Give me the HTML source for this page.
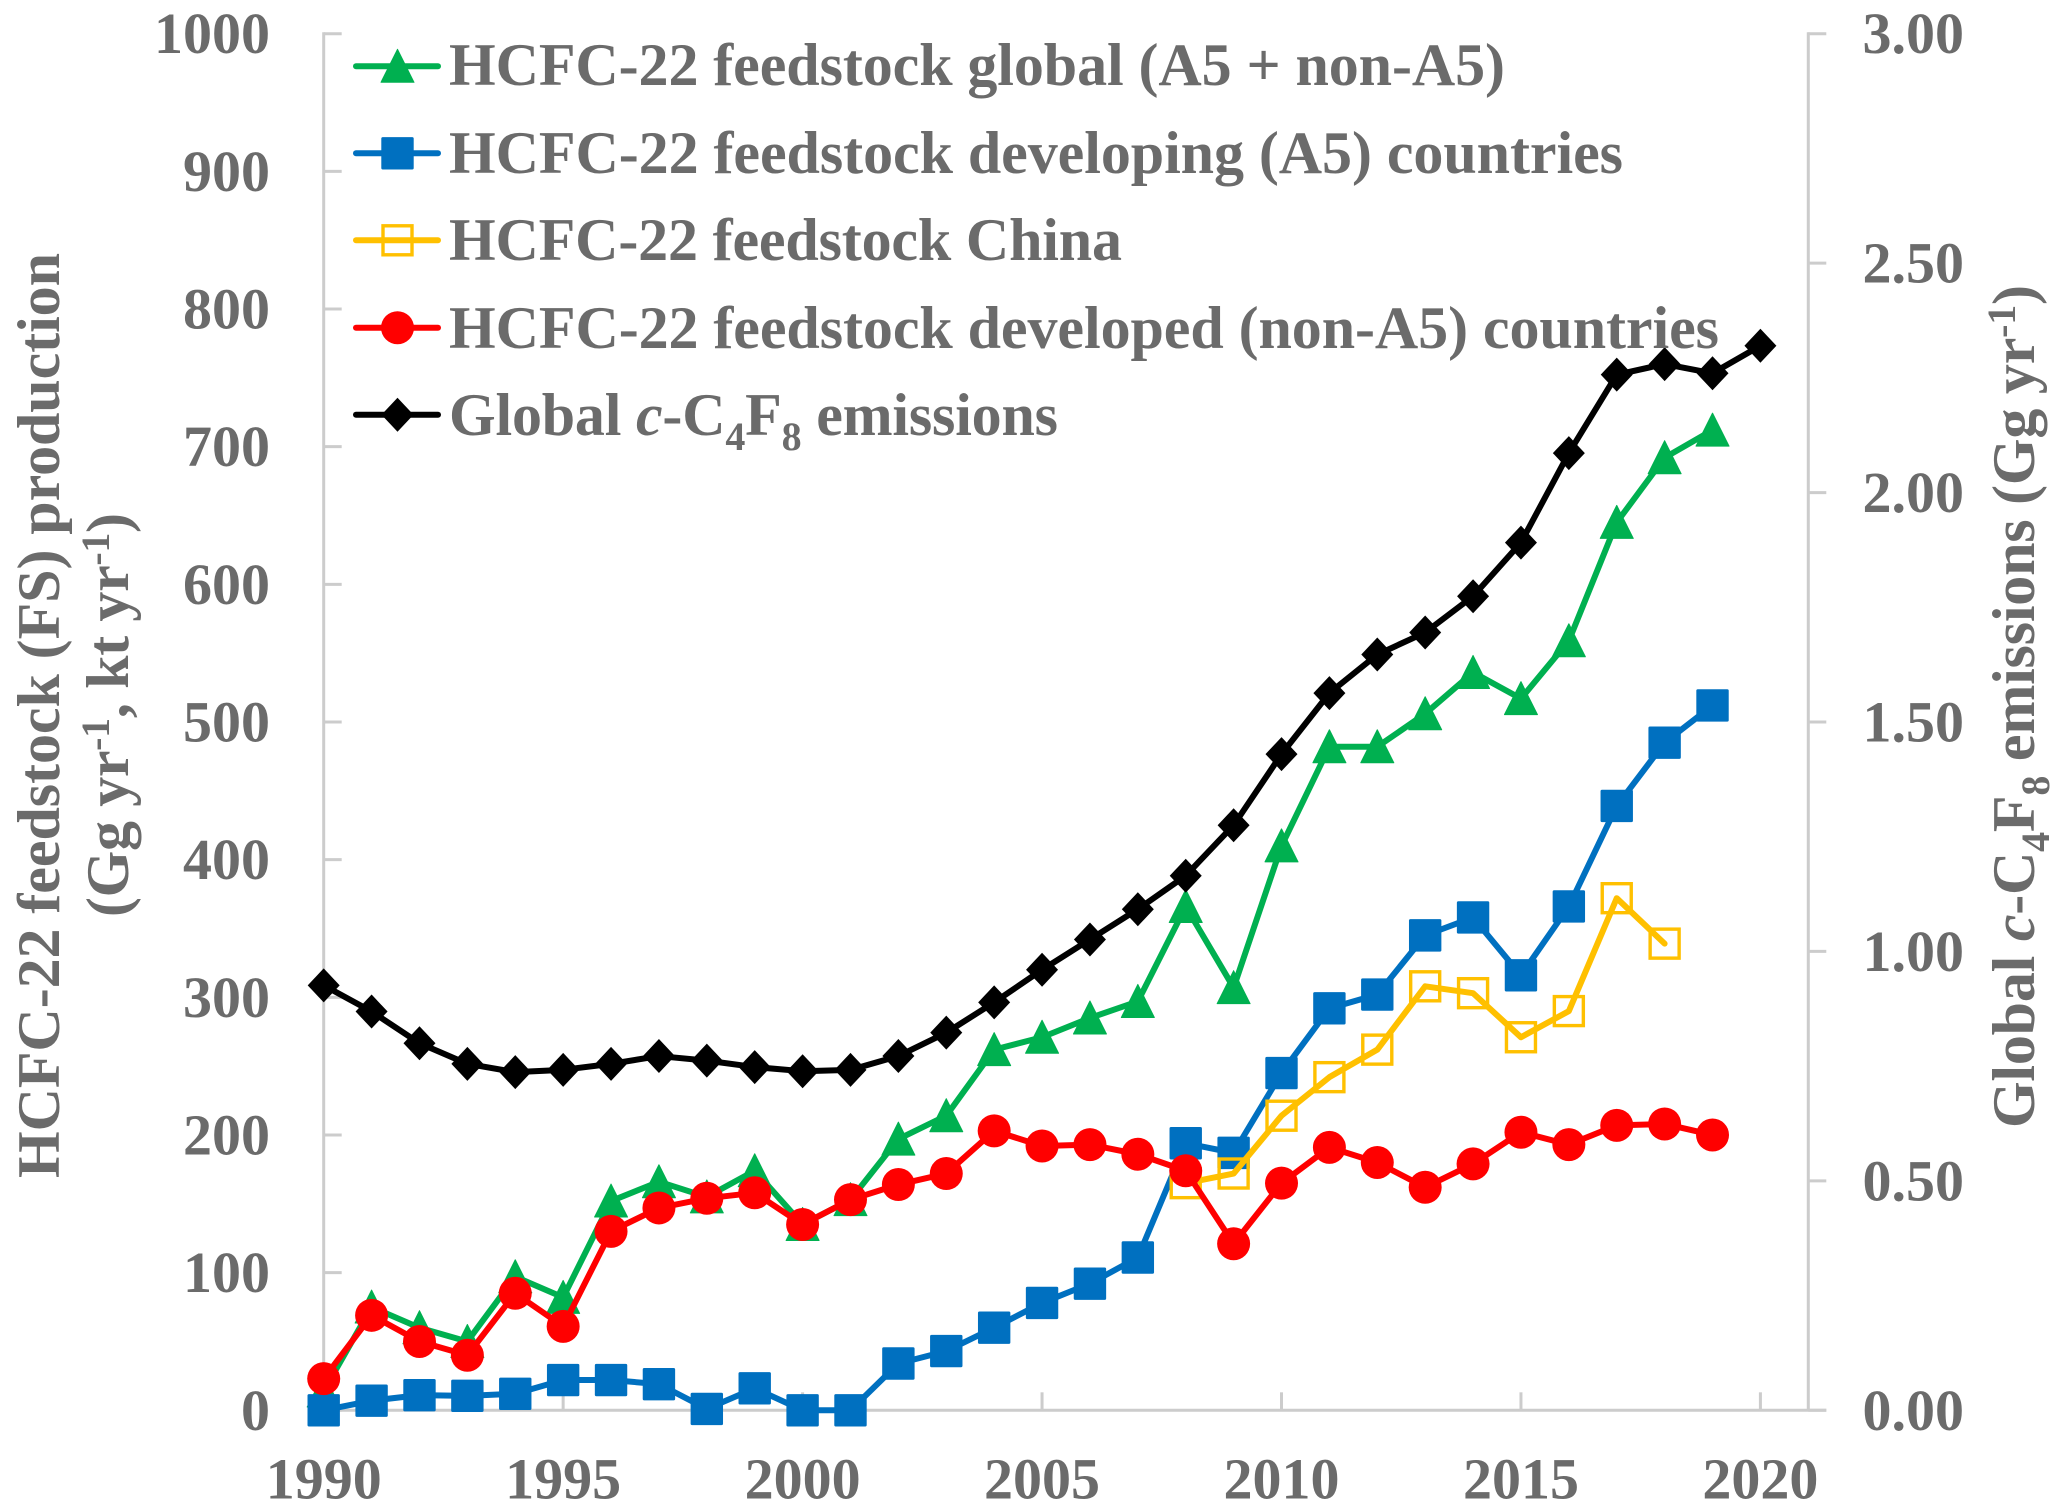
<!DOCTYPE html>
<html lang="en">
<head>
<meta charset="utf-8">
<title>HCFC-22 feedstock production and global c-C4F8 emissions</title>
<style>
html,body{margin:0;padding:0;background:#fff;}
svg{display:block;}
text{font-family:"Liberation Serif",serif;font-weight:bold;fill:#6b6b6b;font-size:60px;}
text.tick{font-size:58px;}
</style>
</head>
<body>
<svg id="chart" xmlns="http://www.w3.org/2000/svg" width="2067" height="1512" viewBox="0 0 2067 1512">
<rect x="0" y="0" width="2067" height="1512" fill="#ffffff"/>
<g id="axes"></g>
<g id="marks"></g>
<g id="legend"></g>
<text transform="translate(59,1178) rotate(-90)" textLength="925">HCFC-22 feedstock (FS) production</text>
<text transform="translate(128,917) rotate(-90)" textLength="404">(Gg yr<tspan dy="-19" font-size="40">-1</tspan><tspan dy="19">, kt yr</tspan><tspan dy="-19" font-size="40">-1</tspan><tspan dy="19">)</tspan></text>
<text transform="translate(2034,1128) rotate(-90)" textLength="843">Global <tspan font-style="italic">c</tspan>-C<tspan dy="15" font-size="40">4</tspan><tspan dy="-15">F</tspan><tspan dy="15" font-size="40">8</tspan><tspan dy="-15"> emissions (Gg yr</tspan><tspan dy="-19" font-size="40">-1</tspan><tspan dy="19">)</tspan></text>
</svg>
<script>
const years = [1990,1991,1992,1993,1994,1995,1996,1997,1998,1999,2000,2001,2002,2003,2004,2005,2006,2007,2008,2009,2010,2011,2012,2013,2014,2015,2016,2017,2018,2019,2020];
const globalFeedstock = [14,75,60,50,97,82,152,166,155,174,135,153,197,214,262,271,285,297,366,307,410,482,482,506,536,517,559,645,692,712,null];
const developingFeedstock = [0,7,11,10.5,12,22,22,19,1,16,0,0,34,43,60,78,92,111,194,187,245,292,302,345,358,316,366,439,485,512,null];
const chinaFeedstock = [null,null,null,null,null,null,null,null,null,null,null,null,null,null,null,null,null,null,165,172,214,242,262,308,303,271,290,372,339,null,null];
const developedFeedstock = [23,69,50,40,85,61,130,147,154,158,135,153,164,172,203,192,193,186,174,121,165,191,180,162,179,202,193,207,208,200,null];
const c4f8Emissions = [0.926,0.869,0.80,0.755,0.737,0.742,0.755,0.772,0.762,0.748,0.739,0.742,0.772,0.823,0.889,0.96,1.026,1.092,1.165,1.275,1.43,1.563,1.647,1.695,1.774,1.891,2.086,2.257,2.28,2.26,2.32];
const xTickLabels = [1990,1995,2000,2005,2010,2015,2020];
const leftTickLabels = [0,100,200,300,400,500,600,700,800,900,1000];
const rightTickLabels = ["0.00","0.50","1.00","1.50","2.00","2.50","3.00"];
const legendLabels = ["HCFC-22 feedstock global (A5 + non-A5)","HCFC-22 feedstock developing (A5) countries","HCFC-22 feedstock China","HCFC-22 feedstock developed (non-A5) countries"];

const NS = "http://www.w3.org/2000/svg";
const plot = {left:323.7, right:1808.3, top:33.7, bottom:1410.3};
function xScale(year){ return plot.left + (year - 1990) * (plot.right - plot.left) / 31; }
function yLeft(v){ return plot.bottom - v * (plot.bottom - plot.top) / 1000; }
function yRight(v){ return plot.bottom - v * (plot.bottom - plot.top) / 3; }
function make(tag, attrs, parent){
  const el = document.createElementNS(NS, tag);
  for (const k in attrs) el.setAttribute(k, attrs[k]);
  parent.appendChild(el);
  return el;
}
const axes = document.getElementById("axes");
const marks = document.getElementById("marks");
const legend = document.getElementById("legend");
const AXIS = {stroke:"#cccccc","stroke-width":3,fill:"none"};

function axisLine(name, x1, y1, x2, y2){
  const l = make("line", Object.assign({x1:x1,y1:y1,x2:x2,y2:y2}, AXIS), axes);
  
  
}
axisLine("left-y-axis-line", plot.left, plot.top - 1.5, plot.left, plot.bottom);
axisLine("right-y-axis-line", plot.right, plot.top - 1.5, plot.right, plot.bottom);
axisLine("x-axis-line", plot.left, plot.bottom, plot.right + 18, plot.bottom);

leftTickLabels.forEach(function(v){
  axisLine("left-y-tick", plot.left, yLeft(v), plot.left + 18, yLeft(v));
  const t = make("text", {x:270, y:yLeft(v) + 19.5, "text-anchor":"end", "class":"tick"}, axes);
  
  
  t.textContent = v;
});
rightTickLabels.forEach(function(v){
  axisLine("right-y-tick", plot.right, yRight(+v), plot.right + 18, yRight(+v));
  const t = make("text", {x:1964, y:yRight(+v) + 19.5, "text-anchor":"end", "class":"tick"}, axes);
  
  
  t.textContent = v;
});
xTickLabels.forEach(function(v){
  axisLine("x-tick", xScale(v), plot.bottom, xScale(v), plot.bottom - 18);
  const t = make("text", {x:xScale(v), y:1498.5, "text-anchor":"middle", "class":"tick"}, axes);
  
  
  t.textContent = v;
});

function drawMarker(kind, color, cx, cy, parent){
  let m;
  if (kind === "triangle") {
    m = make("polygon", {points:[cx,cy-17,cx+16.5,cy+16,cx-16.5,cy+16].join(","), fill:color, stroke:color, "stroke-width":1, "stroke-linejoin":"round"}, parent);
  } else if (kind === "square") {
    m = make("rect", {x:cx-16.2, y:cy-16.2, width:32.4, height:32.4, rx:1.5, fill:color}, parent);
  } else if (kind === "open-square") {
    m = make("rect", {x:cx-14.5, y:cy-14.5, width:29, height:29, fill:"none", stroke:color, "stroke-width":3.4}, parent);
  } else if (kind === "circle") {
    m = make("circle", {cx:cx, cy:cy, r:16.5, fill:color}, parent);
  } else {
    m = make("polygon", {points:[cx,cy-17,cx+16,cy,cx,cy+17,cx-16,cy].join(","), fill:color}, parent);
  }
  
  
}

function drawSeries(name, values, yFn, color, kind, lineOnTop, width){
  const g = make("g", {}, marks);
  
  
  const pts = [];
  values.forEach(function(v, i){ if (v !== null) pts.push([xScale(years[i]), yFn(v)]); });
  const drawLine = function(){
    const p = make("polyline", {points:pts.map(function(q){return q.join(",");}).join(" "), fill:"none", stroke:color, "stroke-width":width, "stroke-linejoin":"round", "stroke-linecap":"round"}, g);
    
    
  };
  if (!lineOnTop) drawLine();
  pts.forEach(function(q){ drawMarker(kind, color, q[0], q[1], g); });
  if (lineOnTop) drawLine();
}
drawSeries("series-global-feedstock", globalFeedstock, yLeft, "#00b050", "triangle", false, 6);
drawSeries("series-developing-feedstock", developingFeedstock, yLeft, "#0070c0", "square", false, 6);
drawSeries("series-china-feedstock", chinaFeedstock, yLeft, "#ffc000", "open-square", true, 6);
drawSeries("series-developed-feedstock", developedFeedstock, yLeft, "#ff0000", "circle", false, 6);
drawSeries("series-c4f8-emissions", c4f8Emissions, yRight, "#000000", "diamond", false, 6);

const legendColors = ["#00b050","#0070c0","#ffc000","#ff0000","#000000"];
const legendKinds = ["triangle","square","open-square","circle","diamond"];
const legendRowY = [66.3,153.3,240.3,327.7,414.7];
const legendBaselineY = [85,173,260,348,435];
const legendWidths = [1056,1174,673,1270,609];
legendRowY.forEach(function(y, i){
  const g = make("g", {}, legend);
  
  
  if (legendKinds[i] === "open-square") drawMarker(legendKinds[i], legendColors[i], 397.5, y, g);
  const l = make("line", {x1:356, y1:y, x2:438, y2:y, stroke:legendColors[i], "stroke-width":6, "stroke-linecap":"round"}, g);
  
  
  if (legendKinds[i] !== "open-square") drawMarker(legendKinds[i], legendColors[i], 397.5, y, g);
  const t = make("text", {x:449, y:legendBaselineY[i], textLength:legendWidths[i]}, g);
  
  
  if (i < 4) {
    t.textContent = legendLabels[i];
  } else {
    t.appendChild(document.createTextNode("Global "));
    const c = make("tspan", {"font-style":"italic"}, t);
    c.textContent = "c";
    t.appendChild(document.createTextNode("-C"));
    const s4 = make("tspan", {dy:15, "font-size":40}, t);
    s4.textContent = "4";
    const f = make("tspan", {dy:-15}, t);
    f.textContent = "F";
    const s8 = make("tspan", {dy:15, "font-size":40}, t);
    s8.textContent = "8";
    const e = make("tspan", {dy:-15}, t);
    e.textContent = " emissions";
  }
});
</script>
</body>
</html>
